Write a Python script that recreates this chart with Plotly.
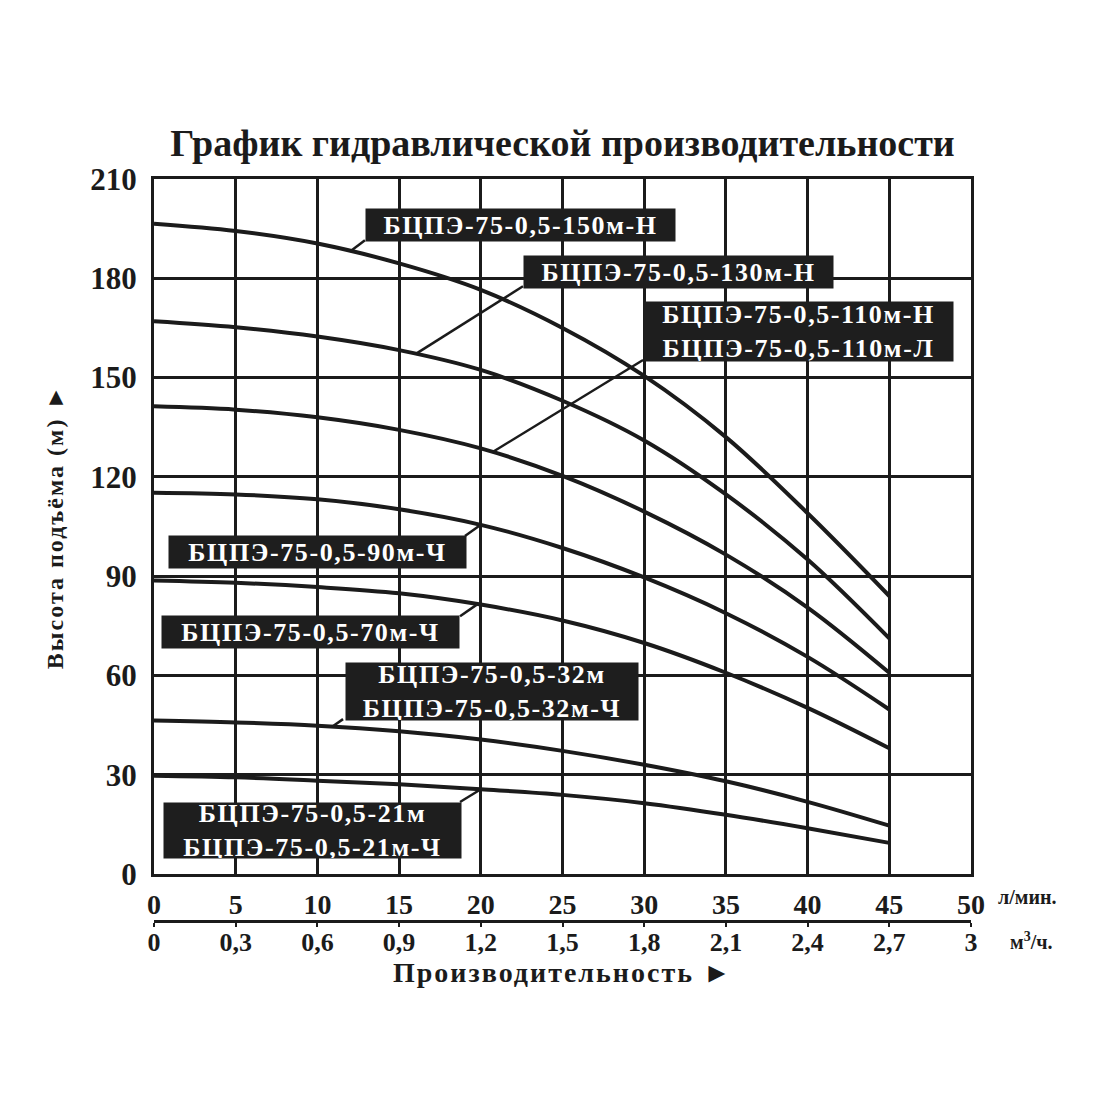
import numpy as np
import plotly.graph_objects as go

# ---------------- data ----------------
flow_lmin = [0, 5, 10, 15, 20, 25, 30, 35, 40, 45]

head_150m = [196.5, 194.3, 190.5, 184.5, 176.5, 165.0, 150.5, 132.0, 109.0, 84.0]
head_130m = [167.0, 165.2, 162.4, 158.3, 152.3, 143.0, 131.0, 114.7, 95.0, 71.2]
head_110m = [141.3, 140.3, 138.0, 134.2, 128.6, 120.3, 109.5, 96.5, 80.5, 60.8]
head_90m = [115.2, 114.7, 113.2, 110.2, 105.5, 98.5, 89.6, 78.8, 65.6, 49.7]
head_70m = [88.7, 88.0, 86.7, 84.8, 81.4, 76.6, 69.8, 60.8, 50.2, 38.0]
head_32m = [46.4, 45.8, 44.8, 43.1, 40.6, 37.2, 33.0, 28.0, 21.8, 14.6]
head_21m = [29.7, 29.2, 28.2, 27.1, 25.6, 23.9, 21.4, 17.9, 13.8, 9.4]

series = [head_150m, head_130m, head_110m, head_90m, head_70m, head_32m, head_21m]

labels = [
    ["БЦПЭ-75-0,5-150м-Н"],
    ["БЦПЭ-75-0,5-130м-Н"],
    ["БЦПЭ-75-0,5-110м-Н", "БЦПЭ-75-0,5-110м-Л"],
    ["БЦПЭ-75-0,5-90м-Ч"],
    ["БЦПЭ-75-0,5-70м-Ч"],
    ["БЦПЭ-75-0,5-32м", "БЦПЭ-75-0,5-32м-Ч"],
    ["БЦПЭ-75-0,5-21м", "БЦПЭ-75-0,5-21м-Ч"],
]

lmin_ticks = [0, 5, 10, 15, 20, 25, 30, 35, 40, 45, 50]
m3h_ticks = [0, 0.3, 0.6, 0.9, 1.2, 1.5, 1.8, 2.1, 2.4, 2.7, 3.0]
m3h_ticktext = ["0", "0,3", "0,6", "0,9", "1,2", "1,5", "1,8", "2,1", "2,4", "2,7", "3"]
head_ticks = [0, 30, 60, 90, 120, 150, 180, 210]

title_text = "График гидравлической производительности"
ytitle_text = "Высота подъёма (м) ►"
xtitle_text = "Производительность ►"

# ---------------- layout / style (positions) ----------------
leader_x = [12.0, 16.0, 20.7, 20.0, 19.8, 10.9, 20.0]
leader_end = [(12.91, 191.5), (22.58, 177.6), (29.93, 155.3), (19.03, 102.1),
              (18.73, 77.9), (11.57, 46.8), (18.73, 21.75)]
box_pos = [(12.91, 201.2), (22.58, 187.0), (29.93, 173.1), (0.86, 102.4),
           (0.43, 78.2), (11.69, 64.05), (0.55, 21.75)]
box_size = [(309, 32), (309, 32), (309, 59), (297, 32), (297, 32), (292, 57), (297, 55)]

FONT = "Liberation Serif, Times New Roman, serif"
INK = "#1b1b1b"

fig = go.Figure()

for h in series:
    fig.add_trace(go.Scatter(
        x=flow_lmin, y=h, mode="lines",
        line=dict(color=INK, width=4, shape="spline", smoothing=1.0),
        showlegend=False, hoverinfo="skip"))

fig.add_trace(go.Scatter(x=m3h_ticks, y=[0] * len(m3h_ticks), xaxis="x2", yaxis="y",
                         mode="lines", line=dict(width=0), showlegend=False, hoverinfo="skip"))

shapes = []
annotations = []
for i, h in enumerate(series):
    lx = leader_x[i]
    ly = float(np.interp(lx, flow_lmin, h))
    ex, ey = leader_end[i]
    shapes.append(dict(type="line", xref="x", yref="y", x0=lx, y0=ly, x1=ex, y1=ey,
                       line=dict(color=INK, width=2.5), layer="above"))
    bx, by = box_pos[i]
    bw, bh = box_size[i]
    txt = "<br>".join('<span style="letter-spacing:1.6px">%s</span>' % s for s in labels[i])
    annotations.append(dict(
        x=bx, y=by, xref="x", yref="y", xanchor="left", yanchor="top",
        text=txt, showarrow=False, width=bw, height=bh, bgcolor="#1e1e1e",
        borderpad=0, align="center", valign="middle",
        font=dict(family=FONT, size=26, color="white", weight=700)))

annotations.append(dict(x=1.03, y=0.1535, xref="paper", yref="paper", xanchor="left", yanchor="top",
                        yshift=-10, text="л/мин.", showarrow=False,
                        font=dict(family=FONT, size=20, color=INK, weight=700)))
annotations.append(dict(x=1.045, y=0.0962, xref="paper", yref="paper", xanchor="left", yanchor="top",
                        yshift=-6, text="м<sup>3</sup>/ч.", showarrow=False,
                        font=dict(family=FONT, size=20, color=INK, weight=700)))
annotations.append(dict(x=0.5, y=0.034, xref="paper", yref="paper", xanchor="center", yanchor="middle",
                        text='<span style="letter-spacing:2px">%s</span>' % xtitle_text, showarrow=False,
                        font=dict(family=FONT, size=28, color=INK, weight=700)))

grid = dict(showgrid=True, gridcolor=INK, gridwidth=2.5, zeroline=False,
            showline=True, linecolor=INK, linewidth=3, mirror=True, ticks="")

fig.update_layout(
    width=1100, height=1100,
    margin=dict(l=154, r=129, t=179, b=100, pad=0),
    paper_bgcolor="white", plot_bgcolor="white",
    title=dict(text=title_text, x=0.5, xref="paper", xanchor="center",
               y=1 - 143 / 1100, yref="container", yanchor="middle",
               font=dict(family=FONT, size=38, color=INK, weight=700)),
    xaxis=dict(range=[0, 50], tickvals=lmin_ticks, anchor="y",
               tickfont=dict(family=FONT, size=28, color=INK, weight=700),
               ticklabelstandoff=3, **grid),
    yaxis=dict(range=[0, 210], tickvals=head_ticks, domain=[0.1535, 1],
               tickfont=dict(family=FONT, size=31, color=INK, weight=700),
               ticklabelstandoff=8,
               title=dict(text='<span style="letter-spacing:2px">%s</span>' % ytitle_text,
                          standoff=20,
                          font=dict(family=FONT, size=24, color=INK, weight=700)),
               **grid),
    xaxis2=dict(range=[0, 3], overlaying="x", anchor="free", position=0.0962, side="bottom",
                tickvals=m3h_ticks, ticktext=m3h_ticktext, showgrid=False, zeroline=False,
                showline=True, linecolor=INK, linewidth=2.5, ticks="outside", ticklen=4,
                tickwidth=2, tickcolor=INK, ticklabelstandoff=-7,
                tickfont=dict(family=FONT, size=26, color=INK, weight=700)),
    shapes=shapes, annotations=annotations,
)

fig.write_html("out.html", config={"displayModeBar": False},
               post_script="document.body.style.margin='0';document.body.style.overflow='hidden';")
